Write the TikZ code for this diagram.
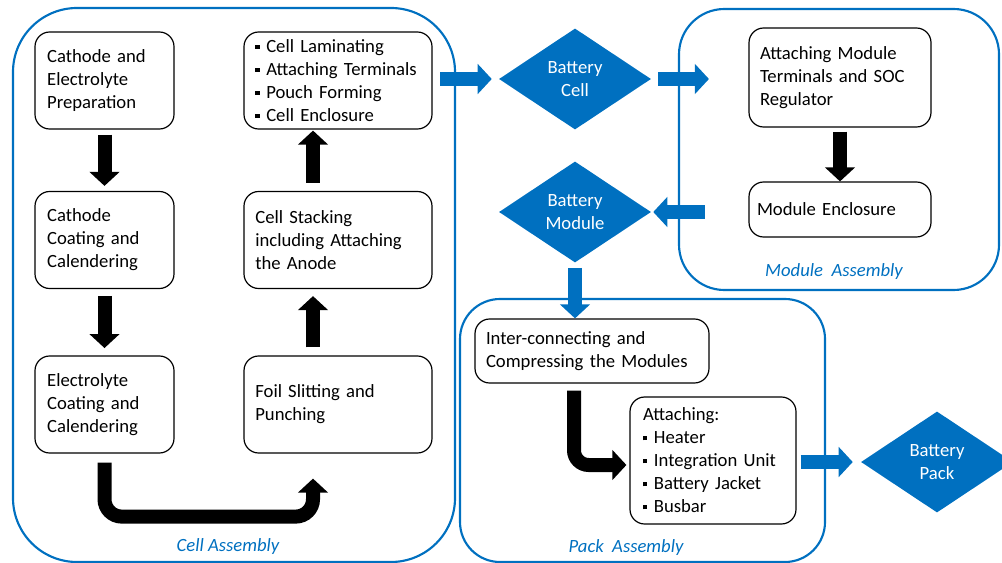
\documentclass[tikz,border=0pt]{standalone}
\usepackage{fontspec}
\setmainfont{Carlito}
\usetikzlibrary{arrows.meta,positioning,shapes.geometric,calc}
\definecolor{flowblue}{HTML}{0070C0}
\newcommand{\sqb}{\raisebox{2.6pt}{\rule{3.2pt}{3.2pt}}\hspace{5pt}}

\begin{document}
\begin{tikzpicture}[x=0.75pt,y=-0.75pt,
   font=\fontsize{14}{17.25}\selectfont,
   stage/.style={draw,line width=0.9pt,rounded corners=11pt,align=left,inner xsep=0pt,inner ysep=0pt},
   assembly/.style={draw=flowblue,line width=1.6pt,rounded corners=#1},
   product/.style={diamond,fill=flowblue,text=white,align=center,inner sep=0pt,
      minimum width=114pt,minimum height=75.75pt},
   grouplabel/.style={text=flowblue,font=\fontsize{14}{17}\selectfont\itshape},
   blk/.style={line width=10.5pt,-{Triangle[length=10.5pt,width=22pt]}},
   blu/.style={draw=flowblue,line width=10.5pt,-{Triangle[length=10.5pt,width=22pt]}}]
  \useasboundingbox (0,0) rectangle (1002,563);

  % the three assembly frames
  \node[assembly=48pt,minimum width=331.5pt,minimum height=415.5pt] (cellA) at (234,285) {};
  \node[assembly=34pt,minimum width=240pt,minimum height=210.75pt] (modA) at (839,149.5) {};
  \node[assembly=30pt,minimum width=273.75pt,minimum height=197.25pt] (packA) at (642.5,430.5) {};
  \node[grouplabel] (cellL) at (228,547) {Cell Assembly};
  \node[grouplabel] (modL) at (834,272) {Module\ \ Assembly};
  \node[grouplabel] (packL) at (626,548) {Pack\ \ Assembly};

  % cell assembly steps
  \node[stage,minimum width=104.25pt,minimum height=72.75pt,text width=86pt] (b1) at (104.5,80.5)
       {Cathode and\\Electrolyte\\Preparation};
  \node[stage,minimum width=104.25pt,minimum height=72.75pt,text width=86pt] (b2) at (104.5,240)
       {Cathode\\Coating and\\Calendering};
  \node[stage,minimum width=104.25pt,minimum height=72.75pt,text width=86pt] (b3) at (104.5,404.5)
       {Electrolyte\\Coating and\\Calendering};
  \node[stage,minimum width=141pt,minimum height=72.75pt,text width=124pt] (b4) at (338,80.5)
       {\sqb Cell Laminating\\\sqb Attaching Terminals\\\sqb Pouch Forming\\\sqb Cell Enclosure};
  \node[stage,minimum width=141pt,minimum height=72.75pt,text width=124pt] (b5) at (338,240)
       {Cell Stacking\\including Attaching\\the Anode};
  \node[stage,minimum width=141pt,minimum height=72.75pt,text width=124pt] (b6) at (338,404.5)
       {Foil Slitting and\\Punching};

  % products
  \node[product] (bc) at (575,79) {Battery\\Cell};
  \node[product] (bm) at (575,212) {Battery\\Module};
  \node[product] (bp) at (937,462) {Battery\\Pack};

  % module and pack steps
  \node[stage,minimum width=136.5pt,minimum height=74.25pt,text width=120pt] (m1) at (840,77.5)
       {Attaching Module\\Terminals and SOC\\Regulator};
  \node[stage,minimum width=136.5pt,minimum height=41.25pt,text width=124.5pt] (m2) at (840,209.5)
       {Module Enclosure};
  \node[stage,minimum width=175.5pt,minimum height=48pt,text width=159pt] (p1) at (592,351)
       {Inter-connecting and\\Compressing the Modules};
  \node[stage,minimum width=124.5pt,minimum height=95.25pt,text width=105pt] (p2) at (713,460.5)
       {Attaching:\\\sqb Heater\\\sqb Integration Unit\\\sqb Battery Jacket\\\sqb Busbar};

  % black flow arrows
  \draw[blk,shorten <=3.75pt,shorten >=3.75pt] (b1) -- (b2);
  \draw[blk,shorten <=5pt,shorten >=5.5pt] (b2) -- (b3);
  \draw[blk,rounded corners=13pt] ($(b3.south)+(0,9)$) -- ($(b3.south)+(0,63)$) -| ($(b6.south)+(-25,25)$);
  \draw[blk] ($(b6.north)+(-25,-8)$) -- ($(b5.south)+(-25,7)$);
  \draw[blk] ($(b5.north)+(-25,-8)$) -- ($(b4.south)+(-25,1)$);
  \draw[blk,shorten <=3pt] (m1) -- (m2);
  \draw[blk,rounded corners=11pt] ($(p1.south)+(-18,7)$) |- ($(p2.west)+(-3,4.5)$);

  % blue flow arrows
  \draw[blu] ($(cellA.east |- bc)+(-16,0)$) -- ($(bc.west)+(-7,0)$);
  \draw[blu] ($(bc.east)+(7,0)$) -- ($(modA.west |- bc)+(31,0)$);
  \draw[blu] ($(modA.west |- bm)+(27,0)$) -- ($(bm.east)+(2,0)$);
  \draw[blu] ($(bm.south)+(0,5)$) -- (bm.south |- p1.north);
  \draw[blu] ($(p2.east |- bp)+(4,0)$) -- ($(bp.west)+(-8,0)$);
\end{tikzpicture}
\end{document}
